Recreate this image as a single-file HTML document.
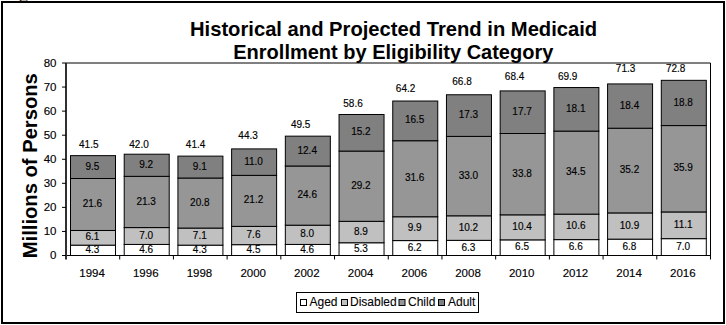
<!DOCTYPE html><html><head><meta charset="utf-8"><style>html,body{margin:0;padding:0;background:#fff;width:726px;height:325px;overflow:hidden}svg{display:block}text{font-family:"Liberation Sans",sans-serif;stroke:#000;stroke-width:0.15px}text.b{stroke:none}text.l{stroke-width:0.1px}</style></head><body><svg width="726" height="325" viewBox="0 0 726 325"><rect x="0" y="0" width="726" height="325" fill="#fff"/><rect x="19" y="0" width="1" height="1" fill="#f0b060"/><rect x="20" y="0" width="1" height="1" fill="#502030"/><rect x="21" y="0" width="1" height="1" fill="#6080a0"/><rect x="22" y="0" width="4" height="1" fill="#c4bcb0"/><rect x="26" y="0" width="1" height="1" fill="#906850"/><rect x="27" y="0" width="1" height="1" fill="#80c0f0"/><rect x="2" y="2" width="722" height="321" fill="none" stroke="#000" stroke-width="2"/><text x="393.6" y="36" font-size="20.2" font-weight="bold" class="b" text-anchor="middle" fill="#000">Historical and Projected Trend in Medicaid</text><text x="393.3" y="58.5" font-size="20" font-weight="bold" class="b" text-anchor="middle" fill="#000">Enrollment by Eligibility Category</text><text transform="translate(36.8,165.7) rotate(-90)" x="0" y="0" font-size="20.2" font-weight="bold" class="b" text-anchor="middle" fill="#000">Millions of Persons</text><line x1="66.0" y1="63.0" x2="710.5" y2="63.0" stroke="#000" stroke-width="1"/><line x1="710.5" y1="63.0" x2="710.5" y2="255.5" stroke="#000" stroke-width="1"/><rect x="70.50" y="245.15" width="45.00" height="10.35" fill="#ffffff" stroke="#000" stroke-width="1"/><rect x="70.50" y="230.47" width="45.00" height="14.68" fill="#c0c0c0" stroke="#000" stroke-width="1"/><rect x="70.50" y="178.50" width="45.00" height="51.97" fill="#969696" stroke="#000" stroke-width="1"/><rect x="70.50" y="155.64" width="45.00" height="22.86" fill="#808080" stroke="#000" stroke-width="1"/><rect x="124.21" y="244.43" width="45.00" height="11.07" fill="#ffffff" stroke="#000" stroke-width="1"/><rect x="124.21" y="227.59" width="45.00" height="16.84" fill="#c0c0c0" stroke="#000" stroke-width="1"/><rect x="124.21" y="176.33" width="45.00" height="51.25" fill="#969696" stroke="#000" stroke-width="1"/><rect x="124.21" y="154.20" width="45.00" height="22.14" fill="#808080" stroke="#000" stroke-width="1"/><rect x="177.92" y="245.15" width="45.00" height="10.35" fill="#ffffff" stroke="#000" stroke-width="1"/><rect x="177.92" y="228.07" width="45.00" height="17.08" fill="#c0c0c0" stroke="#000" stroke-width="1"/><rect x="177.92" y="178.02" width="45.00" height="50.05" fill="#969696" stroke="#000" stroke-width="1"/><rect x="177.92" y="156.12" width="45.00" height="21.90" fill="#808080" stroke="#000" stroke-width="1"/><rect x="231.62" y="244.67" width="45.00" height="10.83" fill="#ffffff" stroke="#000" stroke-width="1"/><rect x="231.62" y="226.38" width="45.00" height="18.29" fill="#c0c0c0" stroke="#000" stroke-width="1"/><rect x="231.62" y="175.37" width="45.00" height="51.01" fill="#969696" stroke="#000" stroke-width="1"/><rect x="231.62" y="148.90" width="45.00" height="26.47" fill="#808080" stroke="#000" stroke-width="1"/><rect x="285.33" y="244.43" width="45.00" height="11.07" fill="#ffffff" stroke="#000" stroke-width="1"/><rect x="285.33" y="225.18" width="45.00" height="19.25" fill="#c0c0c0" stroke="#000" stroke-width="1"/><rect x="285.33" y="165.99" width="45.00" height="59.19" fill="#969696" stroke="#000" stroke-width="1"/><rect x="285.33" y="136.15" width="45.00" height="29.84" fill="#808080" stroke="#000" stroke-width="1"/><rect x="339.04" y="242.75" width="45.00" height="12.75" fill="#ffffff" stroke="#000" stroke-width="1"/><rect x="339.04" y="221.33" width="45.00" height="21.42" fill="#c0c0c0" stroke="#000" stroke-width="1"/><rect x="339.04" y="151.07" width="45.00" height="70.26" fill="#969696" stroke="#000" stroke-width="1"/><rect x="339.04" y="114.49" width="45.00" height="36.58" fill="#808080" stroke="#000" stroke-width="1"/><rect x="392.75" y="240.58" width="45.00" height="14.92" fill="#ffffff" stroke="#000" stroke-width="1"/><rect x="392.75" y="216.76" width="45.00" height="23.82" fill="#c0c0c0" stroke="#000" stroke-width="1"/><rect x="392.75" y="140.72" width="45.00" height="76.04" fill="#969696" stroke="#000" stroke-width="1"/><rect x="392.75" y="101.02" width="45.00" height="39.70" fill="#808080" stroke="#000" stroke-width="1"/><rect x="446.46" y="240.34" width="45.00" height="15.16" fill="#ffffff" stroke="#000" stroke-width="1"/><rect x="446.46" y="215.80" width="45.00" height="24.54" fill="#c0c0c0" stroke="#000" stroke-width="1"/><rect x="446.46" y="136.39" width="45.00" height="79.41" fill="#969696" stroke="#000" stroke-width="1"/><rect x="446.46" y="94.76" width="45.00" height="41.63" fill="#808080" stroke="#000" stroke-width="1"/><rect x="500.17" y="239.86" width="45.00" height="15.64" fill="#ffffff" stroke="#000" stroke-width="1"/><rect x="500.17" y="214.83" width="45.00" height="25.03" fill="#c0c0c0" stroke="#000" stroke-width="1"/><rect x="500.17" y="133.50" width="45.00" height="81.33" fill="#969696" stroke="#000" stroke-width="1"/><rect x="500.17" y="90.91" width="45.00" height="42.59" fill="#808080" stroke="#000" stroke-width="1"/><rect x="553.88" y="239.62" width="45.00" height="15.88" fill="#ffffff" stroke="#000" stroke-width="1"/><rect x="553.88" y="214.11" width="45.00" height="25.51" fill="#c0c0c0" stroke="#000" stroke-width="1"/><rect x="553.88" y="131.10" width="45.00" height="83.02" fill="#969696" stroke="#000" stroke-width="1"/><rect x="553.88" y="87.54" width="45.00" height="43.55" fill="#808080" stroke="#000" stroke-width="1"/><rect x="607.58" y="239.14" width="45.00" height="16.36" fill="#ffffff" stroke="#000" stroke-width="1"/><rect x="607.58" y="212.91" width="45.00" height="26.23" fill="#c0c0c0" stroke="#000" stroke-width="1"/><rect x="607.58" y="128.21" width="45.00" height="84.70" fill="#969696" stroke="#000" stroke-width="1"/><rect x="607.58" y="83.93" width="45.00" height="44.28" fill="#808080" stroke="#000" stroke-width="1"/><rect x="661.29" y="238.66" width="45.00" height="16.84" fill="#ffffff" stroke="#000" stroke-width="1"/><rect x="661.29" y="211.95" width="45.00" height="26.71" fill="#c0c0c0" stroke="#000" stroke-width="1"/><rect x="661.29" y="125.56" width="45.00" height="86.38" fill="#969696" stroke="#000" stroke-width="1"/><rect x="661.29" y="80.33" width="45.00" height="45.24" fill="#808080" stroke="#000" stroke-width="1"/><text x="92.85" y="277" font-size="11.5" text-anchor="middle" dx="-0.8" fill="#000">1994</text><text x="146.56" y="277" font-size="11.5" text-anchor="middle" dx="-0.8" fill="#000">1996</text><text x="200.27" y="277" font-size="11.5" text-anchor="middle" dx="-0.8" fill="#000">1998</text><text x="253.98" y="277" font-size="11.5" text-anchor="middle" dx="-0.8" fill="#000">2000</text><text x="307.69" y="277" font-size="11.5" text-anchor="middle" dx="-0.8" fill="#000">2002</text><text x="361.40" y="277" font-size="11.5" text-anchor="middle" dx="-0.8" fill="#000">2004</text><text x="415.10" y="277" font-size="11.5" text-anchor="middle" dx="-0.8" fill="#000">2006</text><text x="468.81" y="277" font-size="11.5" text-anchor="middle" dx="-0.8" fill="#000">2008</text><text x="522.52" y="277" font-size="11.5" text-anchor="middle" dx="-0.8" fill="#000">2010</text><text x="576.23" y="277" font-size="11.5" text-anchor="middle" dx="-0.8" fill="#000">2012</text><text x="629.94" y="277" font-size="11.5" text-anchor="middle" dx="-0.8" fill="#000">2014</text><text x="683.65" y="277" font-size="11.5" text-anchor="middle" dx="-0.8" fill="#000">2016</text><text x="92.40" y="252.93" font-size="10" text-anchor="middle" fill="#000">4.3</text><text x="92.40" y="240.41" font-size="10" text-anchor="middle" fill="#000">6.1</text><text x="92.40" y="207.09" font-size="10" text-anchor="middle" fill="#000">21.6</text><text x="92.40" y="169.67" font-size="10" text-anchor="middle" fill="#000">9.5</text><text x="88.8" y="147.9" font-size="10" text-anchor="middle" fill="#000">41.5</text><text x="146.11" y="252.57" font-size="10" text-anchor="middle" fill="#000">4.6</text><text x="146.11" y="238.61" font-size="10" text-anchor="middle" fill="#000">7.0</text><text x="146.11" y="204.56" font-size="10" text-anchor="middle" fill="#000">21.3</text><text x="146.11" y="167.87" font-size="10" text-anchor="middle" fill="#000">9.2</text><text x="139.0" y="148" font-size="10" text-anchor="middle" fill="#000">42.0</text><text x="199.82" y="252.93" font-size="10" text-anchor="middle" fill="#000">4.3</text><text x="199.82" y="239.21" font-size="10" text-anchor="middle" fill="#000">7.1</text><text x="199.82" y="205.64" font-size="10" text-anchor="middle" fill="#000">20.8</text><text x="199.82" y="169.67" font-size="10" text-anchor="middle" fill="#000">9.1</text><text x="195.6" y="148" font-size="10" text-anchor="middle" fill="#000">41.4</text><text x="253.53" y="252.69" font-size="10" text-anchor="middle" fill="#000">4.5</text><text x="253.53" y="238.13" font-size="10" text-anchor="middle" fill="#000">7.6</text><text x="253.53" y="203.48" font-size="10" text-anchor="middle" fill="#000">21.2</text><text x="253.53" y="164.74" font-size="10" text-anchor="middle" fill="#000">11.0</text><text x="248.1" y="138.6" font-size="10" text-anchor="middle" fill="#000">44.3</text><text x="307.23" y="252.57" font-size="10" text-anchor="middle" fill="#000">4.6</text><text x="307.23" y="237.41" font-size="10" text-anchor="middle" fill="#000">8.0</text><text x="307.23" y="198.18" font-size="10" text-anchor="middle" fill="#000">24.6</text><text x="307.23" y="153.67" font-size="10" text-anchor="middle" fill="#000">12.4</text><text x="300.7" y="127.7" font-size="10" text-anchor="middle" fill="#000">49.5</text><text x="360.94" y="251.72" font-size="10" text-anchor="middle" fill="#000">5.3</text><text x="360.94" y="234.64" font-size="10" text-anchor="middle" fill="#000">8.9</text><text x="360.94" y="188.80" font-size="10" text-anchor="middle" fill="#000">29.2</text><text x="360.94" y="135.38" font-size="10" text-anchor="middle" fill="#000">15.2</text><text x="353.0" y="106.7" font-size="10" text-anchor="middle" fill="#000">58.6</text><text x="414.65" y="250.64" font-size="10" text-anchor="middle" fill="#000">6.2</text><text x="414.65" y="231.27" font-size="10" text-anchor="middle" fill="#000">9.9</text><text x="414.65" y="181.34" font-size="10" text-anchor="middle" fill="#000">31.6</text><text x="414.65" y="123.47" font-size="10" text-anchor="middle" fill="#000">16.5</text><text x="405.6" y="92.3" font-size="10" text-anchor="middle" fill="#000">64.2</text><text x="468.36" y="250.52" font-size="10" text-anchor="middle" fill="#000">6.3</text><text x="468.36" y="230.67" font-size="10" text-anchor="middle" fill="#000">10.2</text><text x="468.36" y="178.69" font-size="10" text-anchor="middle" fill="#000">33.0</text><text x="468.36" y="118.18" font-size="10" text-anchor="middle" fill="#000">17.3</text><text x="462.0" y="84.7" font-size="10" text-anchor="middle" fill="#000">66.8</text><text x="522.07" y="250.28" font-size="10" text-anchor="middle" fill="#000">6.5</text><text x="522.07" y="229.95" font-size="10" text-anchor="middle" fill="#000">10.4</text><text x="522.07" y="176.77" font-size="10" text-anchor="middle" fill="#000">33.8</text><text x="522.07" y="114.81" font-size="10" text-anchor="middle" fill="#000">17.7</text><text x="514.6" y="79.6" font-size="10" text-anchor="middle" fill="#000">68.4</text><text x="575.77" y="250.16" font-size="10" text-anchor="middle" fill="#000">6.6</text><text x="575.77" y="229.47" font-size="10" text-anchor="middle" fill="#000">10.6</text><text x="575.77" y="175.20" font-size="10" text-anchor="middle" fill="#000">34.5</text><text x="575.77" y="111.92" font-size="10" text-anchor="middle" fill="#000">18.1</text><text x="567.7" y="79.6" font-size="10" text-anchor="middle" fill="#000">69.9</text><text x="629.48" y="249.92" font-size="10" text-anchor="middle" fill="#000">6.8</text><text x="629.48" y="228.62" font-size="10" text-anchor="middle" fill="#000">10.9</text><text x="629.48" y="173.16" font-size="10" text-anchor="middle" fill="#000">35.2</text><text x="629.48" y="108.67" font-size="10" text-anchor="middle" fill="#000">18.4</text><text x="625.6" y="71.8" font-size="10" text-anchor="middle" fill="#000">71.3</text><text x="683.19" y="249.68" font-size="10" text-anchor="middle" fill="#000">7.0</text><text x="683.19" y="227.90" font-size="10" text-anchor="middle" fill="#000">11.1</text><text x="683.19" y="171.35" font-size="10" text-anchor="middle" fill="#000">35.9</text><text x="683.19" y="105.54" font-size="10" text-anchor="middle" fill="#000">18.8</text><text x="675.7" y="71.8" font-size="10" text-anchor="middle" fill="#000">72.8</text><line x1="62.0" y1="255.5" x2="711.0" y2="255.5" stroke="#000" stroke-width="1"/><line x1="66.0" y1="63.0" x2="66.0" y2="259.5" stroke="#303030" stroke-width="2"/><line x1="62.0" y1="255.50" x2="66.0" y2="255.50" stroke="#000" stroke-width="1"/><text x="56.5" y="259.20" font-size="11.5" text-anchor="end" fill="#000">0</text><line x1="62.0" y1="231.44" x2="66.0" y2="231.44" stroke="#000" stroke-width="1"/><text x="56.5" y="235.14" font-size="11.5" text-anchor="end" fill="#000">10</text><line x1="62.0" y1="207.38" x2="66.0" y2="207.38" stroke="#000" stroke-width="1"/><text x="56.5" y="211.07" font-size="11.5" text-anchor="end" fill="#000">20</text><line x1="62.0" y1="183.31" x2="66.0" y2="183.31" stroke="#000" stroke-width="1"/><text x="56.5" y="187.01" font-size="11.5" text-anchor="end" fill="#000">30</text><line x1="62.0" y1="159.25" x2="66.0" y2="159.25" stroke="#000" stroke-width="1"/><text x="56.5" y="162.95" font-size="11.5" text-anchor="end" fill="#000">40</text><line x1="62.0" y1="135.19" x2="66.0" y2="135.19" stroke="#000" stroke-width="1"/><text x="56.5" y="138.89" font-size="11.5" text-anchor="end" fill="#000">50</text><line x1="62.0" y1="111.12" x2="66.0" y2="111.12" stroke="#000" stroke-width="1"/><text x="56.5" y="114.83" font-size="11.5" text-anchor="end" fill="#000">60</text><line x1="62.0" y1="87.06" x2="66.0" y2="87.06" stroke="#000" stroke-width="1"/><text x="56.5" y="90.76" font-size="11.5" text-anchor="end" fill="#000">70</text><line x1="62.0" y1="63.00" x2="66.0" y2="63.00" stroke="#000" stroke-width="1"/><text x="56.5" y="66.70" font-size="11.5" text-anchor="end" fill="#000">80</text><line x1="119.71" y1="255.5" x2="119.71" y2="259.5" stroke="#000" stroke-width="1"/><line x1="173.42" y1="255.5" x2="173.42" y2="259.5" stroke="#000" stroke-width="1"/><line x1="227.12" y1="255.5" x2="227.12" y2="259.5" stroke="#000" stroke-width="1"/><line x1="280.83" y1="255.5" x2="280.83" y2="259.5" stroke="#000" stroke-width="1"/><line x1="334.54" y1="255.5" x2="334.54" y2="259.5" stroke="#000" stroke-width="1"/><line x1="388.25" y1="255.5" x2="388.25" y2="259.5" stroke="#000" stroke-width="1"/><line x1="441.96" y1="255.5" x2="441.96" y2="259.5" stroke="#000" stroke-width="1"/><line x1="495.67" y1="255.5" x2="495.67" y2="259.5" stroke="#000" stroke-width="1"/><line x1="549.38" y1="255.5" x2="549.38" y2="259.5" stroke="#000" stroke-width="1"/><line x1="603.08" y1="255.5" x2="603.08" y2="259.5" stroke="#000" stroke-width="1"/><line x1="656.79" y1="255.5" x2="656.79" y2="259.5" stroke="#000" stroke-width="1"/><line x1="710.50" y1="255.5" x2="710.50" y2="259.5" stroke="#000" stroke-width="1"/><rect x="296.5" y="292.5" width="182" height="20" fill="none" stroke="#000" stroke-width="1"/><rect x="300.5" y="299.5" width="6" height="6" fill="#ffffff" stroke="#000" stroke-width="1"/><text x="309.5" y="305.5" font-size="12" fill="#000" class="l">Aged</text><rect x="341.5" y="299.5" width="6" height="6" fill="#c0c0c0" stroke="#000" stroke-width="1"/><text x="350" y="305.5" font-size="12" fill="#000" class="l">Disabled</text><rect x="399.0" y="299.5" width="6" height="6" fill="#969696" stroke="#000" stroke-width="1"/><text x="408" y="305.5" font-size="12" fill="#000" class="l">Child</text><rect x="438.5" y="299.5" width="6" height="6" fill="#808080" stroke="#000" stroke-width="1"/><text x="448" y="305.5" font-size="12" fill="#000" class="l">Adult</text></svg></body></html>
